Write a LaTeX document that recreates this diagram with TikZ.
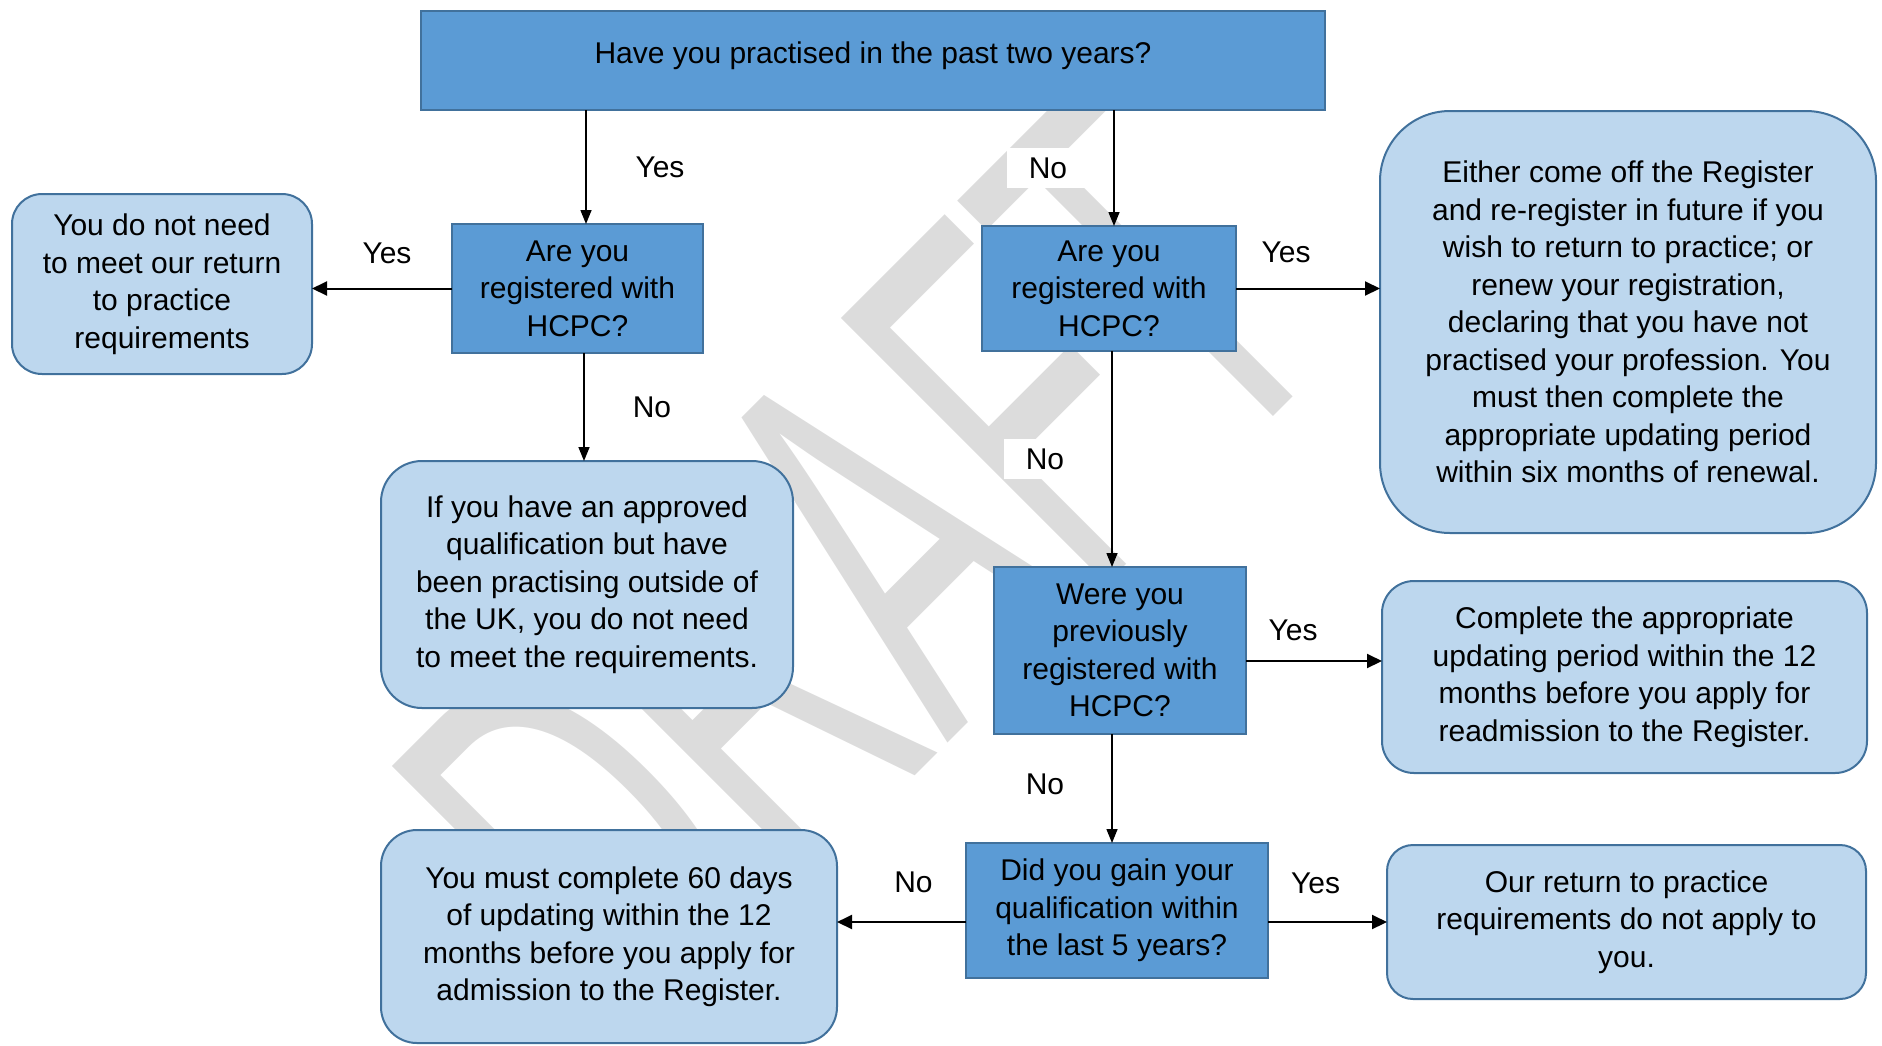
\documentclass[tikz,border=0pt]{standalone}
\usepackage{fontspec}
\setmainfont{Liberation Sans}
\usepackage{graphicx}
\usepackage{xcolor}
\usepackage{tikz}
\usetikzlibrary{arrows.meta,positioning}

\definecolor{qfill}{HTML}{5B9BD5}
\definecolor{infofill}{HTML}{BDD7EE}
\definecolor{edgeblue}{HTML}{41719C}
\definecolor{wmgray}{HTML}{DCDCDC}

\begin{document}
\begin{tikzpicture}[
    x=1pt, y=1pt,
    font=\fontsize{30}{37.5}\selectfont,
    qbox/.style={rectangle, draw=edgeblue, fill=qfill, line width=1.5pt,
                 align=center, outer sep=0pt, inner sep=0pt},
    infobox/.style={rectangle, draw=edgeblue, fill=infofill, line width=2pt,
                    rounded corners=#1, align=center, outer sep=0pt, inner sep=0pt},
    infobox/.default=30pt,
    arrow/.style={-{Triangle[length=14pt, width=11pt]}, line width=1.5pt},
    harrow/.style={-{Triangle[length=15pt, width=14pt]}, line width=2pt},
    lbl/.style={fill=white, inner xsep=22pt, inner ysep=10pt}
  ]
  \useasboundingbox (0,0) rectangle (1882,-1045);

  % watermark behind everything
  \node[rotate=45, inner sep=0pt, text=wmgray, font=\fontsize{546}{546}\selectfont] (wm) at (862,-563) {\scalebox{0.55}[1]{DRAFT}};

  \node[qbox, minimum width=904pt, minimum height=99pt] (past) at (873,-60.5) {\raisebox{5pt}[\height][\depth]{Have you practised in the past two years?}};
  \node[qbox, minimum width=251pt, minimum height=129pt, below=114pt of past, xshift=-295.5pt] (regA) {Are you\\registered with\\HCPC?};
  \node[qbox, minimum width=254pt, minimum height=125pt, below=116pt of past, xshift=236pt] (regB) {Are you\\registered with\\HCPC?};
  \node[infobox, minimum width=300pt, minimum height=180pt, left=140pt of regA, yshift=4.5pt] (noneed) {You do not need\\to meet our return\\to practice\\requirements};
  \node[infobox=41pt, minimum width=412pt, minimum height=247pt, below=108pt of regA, xshift=9.5pt] (approved) {If you have an approved\\qualification but have\\been practising outside of\\the UK, you do not need\\to meet the requirements.};
  \node[infobox=70pt, minimum width=496pt, minimum height=422pt, right=144pt of regB, yshift=-33.5pt] (offreg) {Either come off the Register\\and re-register in future if you\\wish to return to practice; or\\renew your registration,\\declaring that you have not\\practised your profession. You\\must then complete the\\appropriate updating period\\within six months of renewal.};
  \node[qbox, minimum width=252pt, minimum height=167pt, below=216pt of regB, xshift=11pt] (prevreg) {Were you\\previously\\registered with\\HCPC?};
  \node[infobox=32pt, minimum width=485pt, minimum height=192pt, right=136pt of prevreg, yshift=-26.5pt] (readmit) {Complete the appropriate\\updating period within the 12\\months before you apply for\\readmission to the Register.};
  \node[qbox, minimum width=302pt, minimum height=135pt, below=109pt of prevreg, xshift=-3pt] (gained) {Did you gain your\\qualification within\\the last 5 years?};
  \node[infobox=26pt, minimum width=479pt, minimum height=154pt, right=119pt of gained, yshift=-11.5pt] (noapply) {Our return to practice\\requirements do not apply to\\you.};
  \node[infobox=36pt, minimum width=456pt, minimum height=213pt, left=129pt of gained, yshift=-26pt] (sixty) {You must complete 60 days\\of updating within the 12\\months before you apply for\\admission to the Register.};

  \draw[arrow] ([xshift=8.5pt]regA.north |- past.south) -- ([xshift=8.5pt]regA.north) node[midway, lbl, xshift=74pt] {Yes};
  \draw[arrow] ([xshift=5pt]regB.north |- past.south) -- ([xshift=5pt]regB.north) node[midway, lbl, xshift=-66pt] {No};
  \draw[harrow] (regA.west) -- (regA.west -| noneed.east) node[midway, lbl, yshift=35pt, xshift=5pt] {Yes};
  \draw[arrow] ([xshift=6.5pt]regA.south) -- ([xshift=6.5pt]regA.south |- approved.north) node[midway, lbl, xshift=68pt] {No};
  \draw[harrow] (regB.east) -- (regB.east -| offreg.west) node[midway, lbl, yshift=36pt, xshift=-22pt] {Yes};
  \draw[arrow] ([xshift=3pt]regB.south) -- ([xshift=3pt]regB.south |- prevreg.north) node[midway, lbl, xshift=-67pt] {No};
  \draw[harrow] ([yshift=-10.5pt]prevreg.east) -- ([yshift=-10.5pt]prevreg.east -| readmit.west) node[midway, lbl, yshift=31pt, xshift=-21pt] {Yes};
  \draw[arrow] ([xshift=-8pt]prevreg.south) -- ([xshift=-8pt]prevreg.south |- gained.north) node[midway, lbl, xshift=-67pt, yshift=4pt] {No};
  \draw[harrow] ([yshift=-11.5pt]gained.east) -- ([yshift=-11.5pt]gained.east -| noapply.west) node[midway, lbl, yshift=39pt, xshift=-12pt] {Yes};
  \draw[harrow] ([yshift=-11.5pt]gained.west) -- ([yshift=-11.5pt]gained.west -| sixty.east) node[midway, lbl, yshift=40pt, xshift=12pt] {No};
\end{tikzpicture}
\end{document}
